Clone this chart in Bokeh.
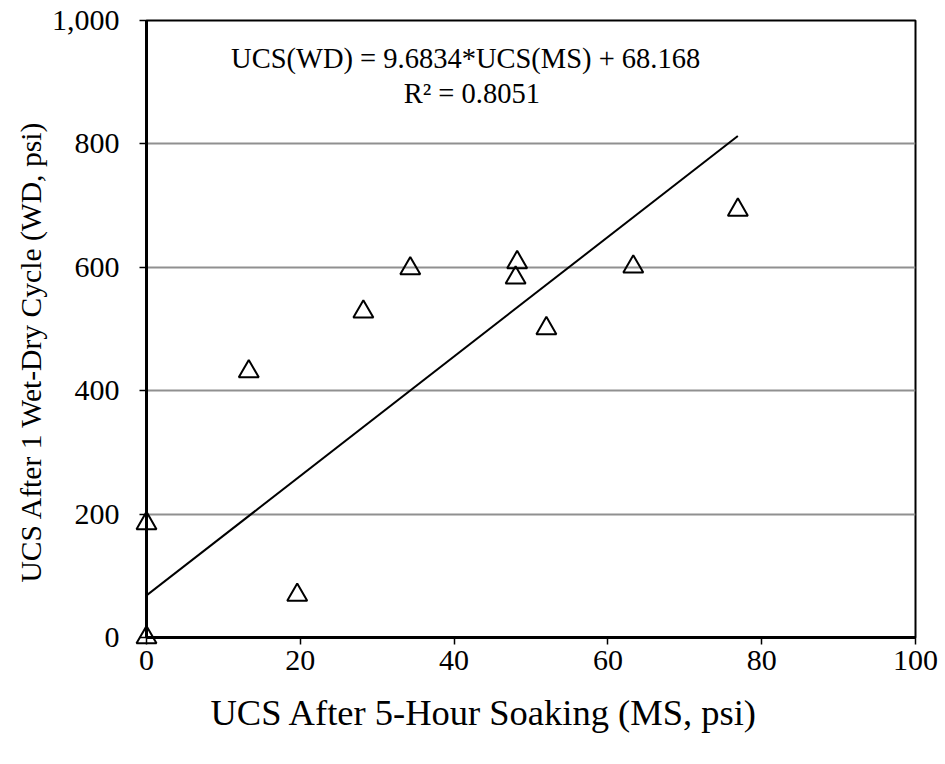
from bokeh.plotting import figure
from bokeh.models import Range1d, FixedTicker, NumeralTickFormatter, Label, ColumnDataSource, Title
from bokeh.embed import file_html
from bokeh.resources import INLINE

# Data
ms = [0.0, 0.0, 13.3, 19.6, 28.2, 34.3, 48.2, 48.0, 52.0, 63.3, 76.9]
wd = [0, 185, 431, 69, 528, 598, 608, 583, 501, 601, 693]
slope = 9.6834
intercept = 68.168
eq_text = "UCS(WD) = 9.6834*UCS(MS) + 68.168"
r2_text = "R² = 0.8051"
x_title = "UCS After 5-Hour Soaking (MS, psi)"
y_title = "UCS After 1 Wet-Dry Cycle (WD, psi)"
x_ticks = [0, 20, 40, 60, 80, 100]
y_ticks = [0, 200, 400, 600, 800, 1000]

FONT = "Liberation Serif"

p = figure(width=940, height=760, output_backend="svg", toolbar_location=None,
           x_range=Range1d(0, 100), y_range=Range1d(0, 1000),
           min_border_left=146, min_border_top=20, min_border_right=25, min_border_bottom=123)
p.background_fill_color = "white"
p.border_fill_color = "white"
p.outline_line_color = "black"
p.outline_line_width = 2

p.xgrid.visible = False
p.ygrid.grid_line_color = "#909090"
p.ygrid.grid_line_width = 2
p.ygrid.ticker = FixedTicker(ticks=[200, 400, 600, 800])

p.xaxis.ticker = FixedTicker(ticks=x_ticks)
p.yaxis.ticker = FixedTicker(ticks=y_ticks)
p.yaxis.formatter = NumeralTickFormatter(format="0,0")
for ax in (p.xaxis[0], p.yaxis[0]):
    ax.axis_line_color = "black"
    ax.axis_line_width = 3
    ax.major_tick_line_color = "black"
    ax.major_tick_line_width = 1.5
    ax.major_tick_in = 0
    ax.major_tick_out = 7
    ax.minor_tick_line_color = None
    ax.major_label_text_font = FONT
    ax.major_label_text_font_size = "30px"
    ax.major_label_text_color = "black"
p.xaxis.major_label_standoff = 6
p.yaxis.major_label_standoff = 20

# Trendline from regression, over the data's x extent
x0, x1 = min(ms), max(ms)
p.line([x0, x1], [slope * x0 + intercept, slope * x1 + intercept], line_color="black", line_width=2)

src = ColumnDataSource(data=dict(x=ms, y=wd))
p.scatter("x", "y", source=src, marker="triangle", size=20, fill_color=None,
          line_color="black", line_width=2, level="overlay")

p.add_layout(Label(x=41.5, y=938, text=eq_text, text_align="center", text_baseline="middle",
                   text_font=FONT, text_font_size="28.5px", text_color="black"))
p.add_layout(Label(x=42.3, y=882, text=r2_text, text_align="center", text_baseline="middle",
                   text_font=FONT, text_font_size="28.5px", text_color="black"))

# Axis titles
p.add_layout(Title(text=x_title, align="left", offset=64, standoff=34,
                   text_font=FONT, text_font_size="36.5px", text_font_style="normal",
                   text_color="black"), "below")
p.add_layout(Title(text=y_title, align="left", offset=55, standoff=3,
                   text_font=FONT, text_font_size="29.6px", text_font_style="normal",
                   text_color="black"), "left")

open("out.html", "w").write(file_html(p, INLINE))
